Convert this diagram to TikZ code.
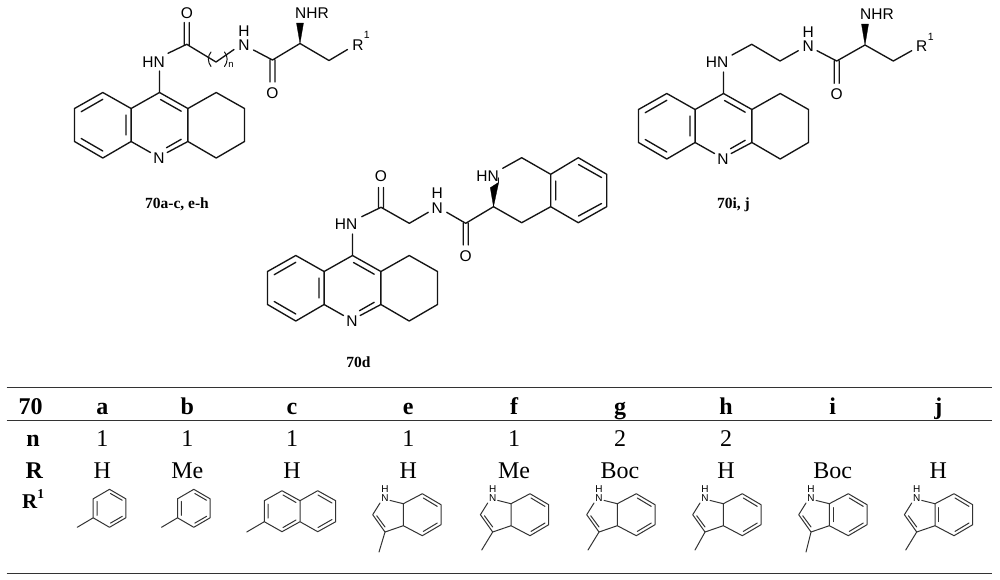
\documentclass[tikz,border=0pt]{standalone}
\usepackage{fontspec}
\setmainfont{Liberation Serif}
\newfontfamily\atomfont{Liberation Sans}
\tikzset{
  bondline/.style={draw=black!92,line width=1.35pt,line cap=round,line join=round},
  thinbond/.style={draw=black!80,line width=1pt,line cap=round,line join=round},
  wedgefill/.style={fill=black,draw=black,line width=0.3pt,line join=round},
  atomlabel/.style={inner sep=0pt,font=\atomfont\fontsize{15.5}{15.5}\selectfont,text=black},
  suplabel/.style={inner sep=0pt,font=\atomfont\fontsize{10.5}{10.5}\selectfont,text=black},
  smallatom/.style={inner sep=0pt,font=\atomfont\fontsize{10}{10}\selectfont,text=black},
  complabel/.style={inner sep=0pt,anchor=base,font=\bfseries\fontsize{15.5}{15.5}\selectfont,text=black},
  headcell/.style={inner sep=0pt,anchor=base,font=\bfseries\fontsize{24}{24}\selectfont,text=black},
  bodycell/.style={inner sep=0pt,anchor=base,font=\fontsize{24}{24}\selectfont,text=black},
  tablerule/.style={draw=black!80,line width=#1},
}
% tacrine core, origin at C9
\newcommand{\tacrinecore}[3]{%
\begin{scope}[shift={(#1,#2)}]
  \node[atomlabel] (ringN#3) at (-0.5,66) {N};
  \path[bondline]
    (0,0) -- (-28.4,16) -- (-56.7,0) -- (-85,16) -- (-85,49) -- (-56.7,65.5) -- (-28.4,49) -- (-28.4,16)
    (-28.4,49) -- (-9,60)
    (7.7,60) -- (28.4,49) -- (28.4,16) -- (0,0)
    (28.4,16) -- (56.7,0) -- (85,16) -- (85,49) -- (56.7,65.5) -- (28.4,49)
    (1,7) -- (21.7,18.7)
    (21.7,46.8) -- (7,55.2)
    (-33.5,22.5) -- (-33.5,42.5)
    (-78.3,19.2) -- (-56.7,6.8)
    (-78.3,46) -- (-56.7,58.5);
\end{scope}}
% tolyl, origin at ring centre
\newcommand{\tolylgroup}[2]{%
\begin{scope}[shift={(#1,#2)}]
  \path[thinbond]
    (0,-19) -- (16.3,-9.5) -- (16.3,9.5) -- (0,19) -- (-16.3,9.5) -- (-16.3,-9.5) -- cycle
    (-16.3,9.5) -- (-32.3,19)
    (-12.5,-7) -- (-12.5,7)
    (1,-14.8) -- (12.8,-8)
    (1,14.8) -- (12.8,8);
\end{scope}}
% indolyl, origin at lower ring-fusion carbon; #3,#4 methyl vector; #5 = 1 aromatic
\newcommand{\indolegroup}[6]{%
\begin{scope}[shift={(#1,#2)}]
  \node[smallatom] (ind#6N) at (-18.3,-27.7) {N};
  \node[smallatom] (ind#6H) at (-18.3,-36.2) {H};
  \path[thinbond]
    (-13.3,-25.3) -- (0,-22) -- (0,0) -- (-18.3,6.3) -- (-30.6,-11) -- (-23.3,-22.7)
    (-18.3,6.3) -- ++(#3,#4)
    (-26.6,-10) -- (-18.3,1.3)
    (0,-22) -- (19,-32) -- (37.7,-21) -- (37.7,-1) -- (19,10) -- (0,0)
    (20,-27.7) -- (34,-19.3)
    (20,5.7) -- (34,-2.7);
  \ifnum#5=1 \path[thinbond] (3.8,-18) -- (3.8,-4); \fi
\end{scope}}
\begin{document}
\begin{tikzpicture}[x=1pt,y=-1pt]
\useasboundingbox[fill=white] (0,0) rectangle (1000,579);

% ---------- 70a-c, e-h ----------
\tacrinecore{159.5}{92.5}{A}
\node[atomlabel] (hnA) at (153.5,61.7) {HN};
\node[atomlabel] (oA1) at (187,13.5) {O};
\node[atomlabel] (nA) at (244,45) {N};
\node[atomlabel] (hA) at (244,31) {H};
\node[atomlabel] (oA2) at (272.5,92.7) {O};
\node[atomlabel] (nhrA) at (312,13) {NHR};
\node[atomlabel] (rA) at (358,45) {R};
\node[suplabel] (sA) at (366.7,35) {1};
\path[bondline]
  (159.5,92.5) -- (159.5,71)
  (168,53.3) -- (186.7,44.3) -- (216,62) -- (234,49.5)
  (184.2,45) -- (184.2,22.5) (189.2,45) -- (189.2,22.5)
  (253.5,50) -- (272.5,60) -- (300,43.5) -- (329,60.5) -- (347.5,49.5)
  (270,60) -- (270,82) (275,60) -- (275,82);
\path[bondline,line width=1pt]
  (211,52) .. controls (207.5,56) and (207.5,62) .. (211,66.5)
  (224.5,52) .. controls (228,56) and (228,62) .. (224.5,66.5);
\node[suplabel,font=\atomfont\fontsize{9.5}{9.5}\selectfont] (subn) at (231,65) {n};
\path[wedgefill] (300,43.5) -- (296.5,23) -- (303.5,23) -- cycle;
\node[complabel] (lblA) at (177,208) {70a-c, e-h};

% ---------- 70i, j ----------
\tacrinecore{723.5}{93.5}{B}
\node[atomlabel] (hnB) at (717,62) {HN};
\node[atomlabel] (nB) at (808.3,46) {N};
\node[atomlabel] (hB) at (808.3,32) {H};
\node[atomlabel] (oB) at (836.7,94.3) {O};
\node[atomlabel] (nhrB) at (877,14) {NHR};
\node[atomlabel] (rB) at (921.7,46) {R};
\node[suplabel] (sB) at (930.7,36.5) {1};
\path[bondline]
  (723.5,93.5) -- (723.5,72)
  (732,55) -- (751.7,44.3) -- (780,61) -- (798.3,50.7)
  (817,50.7) -- (836.7,61) -- (865,45) -- (893.3,61) -- (911.7,50.7)
  (834.2,61) -- (834.2,83.3) (839.2,61) -- (839.2,83.3);
\path[wedgefill] (865,45) -- (861.5,24) -- (868.5,24) -- cycle;
\node[complabel] (lblB) at (733.5,208) {70i, j};

% ---------- 70d ----------
\tacrinecore{352.5}{255.5}{C}
\node[atomlabel] (hnC) at (346,224) {HN};
\node[atomlabel] (oC1) at (381,175.7) {O};
\node[atomlabel] (nC) at (437.3,207.7) {N};
\node[atomlabel] (hC) at (437.3,193.5) {H};
\node[atomlabel] (oC2) at (465.7,256) {O};
\node[atomlabel] (hnD) at (487.5,175.7) {HN};
\path[bondline]
  (352.5,255.5) -- (352.5,234)
  (361.7,216.7) -- (381,207.3) -- (409.3,223.3) -- (428.3,212.3)
  (378.5,207.5) -- (378.5,187.5) (383.5,207.5) -- (383.5,187.5)
  (446.7,212.3) -- (465.7,223.3) -- (493.5,206.7) -- (521.7,222.7) -- (550.7,206.7) -- (550.7,174.3) -- (521.7,157.7) -- (502.7,168.3)
  (463.2,223.3) -- (463.2,245) (468.2,223.3) -- (468.2,245)
  (550.7,174.3) -- (578.3,157.7) -- (606.7,174.3) -- (606.7,206.7) -- (578.3,222.7) -- (550.7,206.7)
  (555.8,181) -- (555.8,200)
  (578.5,164.5) -- (601.5,177.5)
  (578.5,216) -- (601.5,203.5);
\path[wedgefill] (493.5,206.7) -- (490.3,187.7) -- (498.7,182.3) -- cycle;
\path[bondline] (498.5,182.5) -- (498.5,178);
\node[complabel] (lblC) at (358.5,367) {70d};

% ---------- table ----------
\coordinate (ruleTopL) at (6.5,387.7);
\coordinate (ruleTopR) at (991.5,387.7);
\coordinate (ruleMidL) at (6.5,420.7);
\coordinate (ruleMidR) at (991.5,420.7);
\coordinate (ruleBotL) at (6.5,573.5);
\coordinate (ruleBotR) at (991.5,573.5);
\path[tablerule=1.4pt] (ruleTopL) -- (ruleTopR);
\path[tablerule=1.1pt] (ruleMidL) -- (ruleMidR);
\path[tablerule=1.4pt] (ruleBotL) -- (ruleBotR);

\node[headcell] (h70) at (30.7,414) {70};
\node[headcell] (ha) at (102.3,414) {a};
\node[headcell] (hb) at (187.3,414) {b};
\node[headcell] (hc) at (292,414) {c};
\node[headcell] (he) at (408.3,414) {e};
\node[headcell] (hf) at (514,414) {f};
\node[headcell] (hg) at (620,414) {g};
\node[headcell] (hh) at (726,414) {h};
\node[headcell] (hi) at (832.7,414) {i};
\node[headcell] (hj) at (938.3,414) {j};

\node[headcell] (rown) at (33,446.7) {n};
\node[bodycell] (na) at (102.3,446.7) {1};
\node[bodycell] (nb) at (187.3,446.7) {1};
\node[bodycell] (nc) at (292,446.7) {1};
\node[bodycell] (ne) at (408.3,446.7) {1};
\node[bodycell] (nf) at (514,446.7) {1};
\node[bodycell] (ng) at (620,446.7) {2};
\node[bodycell] (nh) at (726,446.7) {2};

\node[headcell] (rowR) at (34.3,478.3) {R};
\node[bodycell] (Ra) at (102.3,478.3) {H};
\node[bodycell] (Rb) at (187.3,478.3) {Me};
\node[bodycell] (Rc) at (292,478.3) {H};
\node[bodycell] (Re) at (408.3,478.3) {H};
\node[bodycell] (Rf) at (514,478.3) {Me};
\node[bodycell] (Rg) at (620,478.3) {Boc};
\node[bodycell] (Rh) at (726,478.3) {H};
\node[bodycell] (Ri) at (832.7,478.3) {Boc};
\node[bodycell] (Rj) at (938.3,478.3) {H};

\node[inner sep=0pt,anchor=base west,font=\bfseries\fontsize{21}{21}\selectfont,text=black] (rowRone) at (22,508.5)
  {R\raisebox{10pt}{\fontsize{13.5}{13.5}\selectfont 1}};

\tolylgroup{109.5}{508.3}
\tolylgroup{193.8}{508.3}

% naphthyl
\path[thinbond]
  (282,490.7) -- (300,500.7) -- (300,521.7) -- (282,531.7) -- (264.3,521.7) -- (264.3,500.7) -- cycle
  (300,500.7) -- (317.7,490.7) -- (335.7,500.7) -- (335.7,521.7) -- (317.7,531.7) -- (300,521.7)
  (264.3,521.7) -- (246.7,532)
  (268,504) -- (268,518)
  (283,495) -- (296,502.5)
  (283,527.5) -- (296,520)
  (318,495) -- (332,503)
  (318,527.5) -- (332,519.5);

\indolegroup{403.3}{525.7}{-6}{20}{0}{e}
\indolegroup{511}{525.7}{-11}{18}{0}{f}
\indolegroup{617.3}{525.7}{-11}{18}{0}{g}
\indolegroup{723.3}{525.7}{-10}{18}{0}{h}
\indolegroup{829.3}{525.7}{-5}{20}{1}{i}
\indolegroup{935}{525.7}{-11}{18}{1}{j}
\end{tikzpicture}
\end{document}
